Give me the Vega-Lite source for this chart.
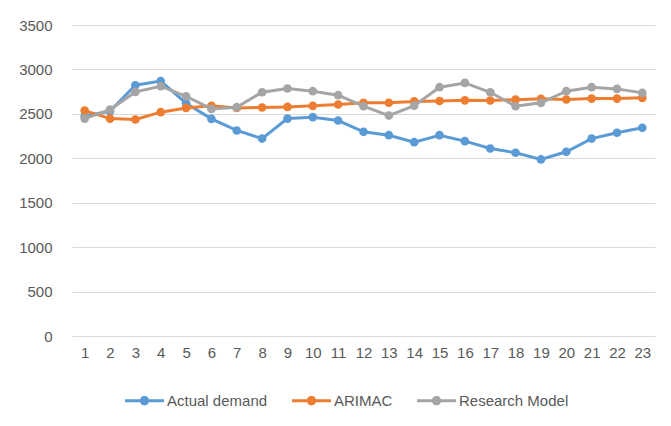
{
  "$schema": "https://vega.github.io/schema/vega-lite/v6.json",
  "width": 583,
  "height": 311,
  "autosize": {"type": "none"},
  "padding": {"left": 72, "top": 25, "right": 16, "bottom": 90},
  "background": "white",
  "config": {
    "view": {"stroke": null},
    "font": "Liberation Sans",
    "axis": {"labelFont": "Liberation Sans", "labelFontSize": 15, "labelColor": "#595959"},
    "legend": {"labelFont": "Liberation Sans", "labelFontSize": 15, "labelColor": "#595959"}
  },
  "data": {
    "values": [
      {"t": 1, "series": "Actual demand", "value": 2475},
      {"t": 2, "series": "Actual demand", "value": 2530},
      {"t": 3, "series": "Actual demand", "value": 2822},
      {"t": 4, "series": "Actual demand", "value": 2870},
      {"t": 5, "series": "Actual demand", "value": 2620},
      {"t": 6, "series": "Actual demand", "value": 2444},
      {"t": 7, "series": "Actual demand", "value": 2313},
      {"t": 8, "series": "Actual demand", "value": 2222},
      {"t": 9, "series": "Actual demand", "value": 2447},
      {"t": 10, "series": "Actual demand", "value": 2463},
      {"t": 11, "series": "Actual demand", "value": 2425},
      {"t": 12, "series": "Actual demand", "value": 2298},
      {"t": 13, "series": "Actual demand", "value": 2260},
      {"t": 14, "series": "Actual demand", "value": 2181},
      {"t": 15, "series": "Actual demand", "value": 2260},
      {"t": 16, "series": "Actual demand", "value": 2193},
      {"t": 17, "series": "Actual demand", "value": 2110},
      {"t": 18, "series": "Actual demand", "value": 2062},
      {"t": 19, "series": "Actual demand", "value": 1987},
      {"t": 20, "series": "Actual demand", "value": 2073},
      {"t": 21, "series": "Actual demand", "value": 2222},
      {"t": 22, "series": "Actual demand", "value": 2287},
      {"t": 23, "series": "Actual demand", "value": 2343},
      {"t": 1, "series": "ARIMAC", "value": 2537},
      {"t": 2, "series": "ARIMAC", "value": 2447},
      {"t": 3, "series": "ARIMAC", "value": 2436},
      {"t": 4, "series": "ARIMAC", "value": 2519},
      {"t": 5, "series": "ARIMAC", "value": 2567},
      {"t": 6, "series": "ARIMAC", "value": 2590},
      {"t": 7, "series": "ARIMAC", "value": 2567},
      {"t": 8, "series": "ARIMAC", "value": 2572},
      {"t": 9, "series": "ARIMAC", "value": 2578},
      {"t": 10, "series": "ARIMAC", "value": 2590},
      {"t": 11, "series": "ARIMAC", "value": 2605},
      {"t": 12, "series": "ARIMAC", "value": 2625},
      {"t": 13, "series": "ARIMAC", "value": 2625},
      {"t": 14, "series": "ARIMAC", "value": 2640},
      {"t": 15, "series": "ARIMAC", "value": 2645},
      {"t": 16, "series": "ARIMAC", "value": 2652},
      {"t": 17, "series": "ARIMAC", "value": 2650},
      {"t": 18, "series": "ARIMAC", "value": 2660},
      {"t": 19, "series": "ARIMAC", "value": 2670},
      {"t": 20, "series": "ARIMAC", "value": 2662},
      {"t": 21, "series": "ARIMAC", "value": 2672},
      {"t": 22, "series": "ARIMAC", "value": 2672},
      {"t": 23, "series": "ARIMAC", "value": 2680},
      {"t": 1, "series": "Research Model", "value": 2447},
      {"t": 2, "series": "Research Model", "value": 2548},
      {"t": 3, "series": "Research Model", "value": 2747},
      {"t": 4, "series": "Research Model", "value": 2811},
      {"t": 5, "series": "Research Model", "value": 2698},
      {"t": 6, "series": "Research Model", "value": 2556},
      {"t": 7, "series": "Research Model", "value": 2575},
      {"t": 8, "series": "Research Model", "value": 2743},
      {"t": 9, "series": "Research Model", "value": 2785},
      {"t": 10, "series": "Research Model", "value": 2755},
      {"t": 11, "series": "Research Model", "value": 2710},
      {"t": 12, "series": "Research Model", "value": 2586},
      {"t": 13, "series": "Research Model", "value": 2481},
      {"t": 14, "series": "Research Model", "value": 2593},
      {"t": 15, "series": "Research Model", "value": 2800},
      {"t": 16, "series": "Research Model", "value": 2848},
      {"t": 17, "series": "Research Model", "value": 2743},
      {"t": 18, "series": "Research Model", "value": 2586},
      {"t": 19, "series": "Research Model", "value": 2624},
      {"t": 20, "series": "Research Model", "value": 2755},
      {"t": 21, "series": "Research Model", "value": 2800},
      {"t": 22, "series": "Research Model", "value": 2781},
      {"t": 23, "series": "Research Model", "value": 2736}
    ]
  },
  "encoding": {
    "x": {
      "field": "t", "type": "ordinal",
      "scale": {"type": "point", "padding": 0.5},
      "axis": {"title": null, "labelAngle": 0, "domain": false, "ticks": false, "labelPadding": 9, "grid": false}
    },
    "y": {
      "field": "value", "type": "quantitative",
      "scale": {"domain": [0, 3500], "nice": false, "zero": true},
      "axis": {"title": null, "format": "d", "values": [0, 500, 1000, 1500, 2000, 2500, 3000, 3500], "domain": false, "ticks": false, "labelPadding": 20, "grid": true, "gridColor": "#D9D9D9", "gridWidth": 1}
    },
    "color": {
      "field": "series", "type": "nominal",
      "scale": {"domain": ["Actual demand", "ARIMAC", "Research Model"], "range": ["#5B9BD5", "#ED7D31", "#A5A5A5"]},
      "legend": {
        "title": null,
        "orient": "none",
        "direction": "horizontal",
        "legendX": 53,
        "legendY": 356,
        "padding": 0,
        "columnPadding": 24,
        "labelOffset": 3,
        "symbolType": "M-1,-0.077H1V0.077H-1Z M0.24,0A0.24,0.24 0 1,1 -0.24,0A0.24,0.24 0 1,1 0.24,0Z",
        "symbolSize": 1521,
        "symbolStrokeWidth": 0,
        "encode": {"symbols": {"update": {"fill": {"scale": "color", "field": "value"}, "fillOpacity": {"value": 1}, "strokeWidth": {"value": 0}}}}
      }
    }
  },
  "layer": [
    {
      "transform": [{"filter": "datum.series === 'Actual demand'"}],
      "mark": {"type": "line", "strokeWidth": 3, "point": {"filled": true, "size": 75, "opacity": 1}}
    },
    {
      "transform": [{"filter": "datum.series === 'ARIMAC'"}],
      "mark": {"type": "line", "strokeWidth": 3, "point": {"filled": true, "size": 75, "opacity": 1}}
    },
    {
      "transform": [{"filter": "datum.series === 'Research Model'"}],
      "mark": {"type": "line", "strokeWidth": 3, "point": {"filled": true, "size": 75, "opacity": 1}}
    }
  ]
}
